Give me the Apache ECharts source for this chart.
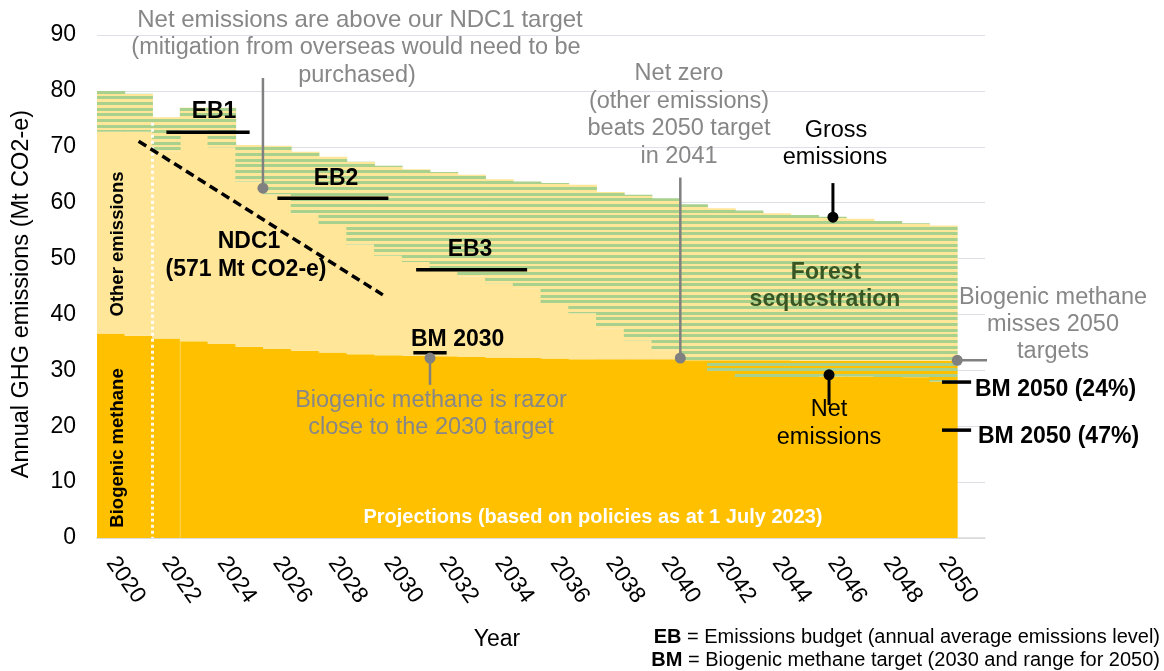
<!DOCTYPE html>
<html><head><meta charset="utf-8">
<script src="https://cdn.jsdelivr.net/npm/echarts@6/dist/echarts.min.js"></script>
<style>html,body{margin:0;padding:0;background:#fff}#c{width:1164px;height:671px}</style>
</head><body><div id="c"></div>
<script>
// ---------- data ----------
const years = [2020,2021,2022,2023,2024,2025,2026,2027,2028,2029,2030,2031,2032,2033,2034,2035,2036,2037,2038,2039,2040,2041,2042,2043,2044,2045,2046,2047,2048,2049,2050];
const biogenicMethane = [36.6,36.2,35.7,35.2,34.7,34.2,33.8,33.5,33.2,32.9,32.7,32.6,32.5,32.4,32.3,32.2,32.1,32.0,32.0,32.0,32.0,31.8,31.8,31.8,31.8,31.7,31.7,31.7,31.7,31.7,31.7];
const netEmissions = [72.7,72.7,69.1,72.9,69.9,63.8,61.5,58.0,56.0,52.5,50.5,49.4,48.3,46.8,45.6,44.7,41.7,40.2,37.5,35.4,33.6,31.5,29.9,28.8,28.8,28.8,28.9,28.9,28.8,28.7,28.0];
const grossEmissions = [80.0,79.5,75.3,77.0,77.0,70.3,70.2,69.1,68.2,67.3,66.6,66.0,65.5,65.0,64.2,63.8,63.5,63.2,61.9,61.4,60.8,59.7,59.0,58.6,58.1,57.8,57.5,57.1,56.7,56.3,55.9];
const yTicks = [0,10,20,30,40,50,60,70,80,90];
// emissions budgets: label, first year, last year, annual level
const budgetNames = ['EB1','EB2','EB3'];
const budgetFrom = [2022,2026,2031];
const budgetTo = [2025,2030,2035];
const budgetLevel = [72.6,60.8,48.0];
// biogenic methane targets
const bm2030Target = 33.15;
const bm2050Targets = [27.9, 19.3];
// NDC1 trajectory [year, value]
const ndcLine = [[2021.0,71.0],[2029.8,43.5]];

// ---------- derived stacks ----------
const orangeBase = years.map((y,i)=>Math.min(biogenicMethane[i], netEmissions[i]));
const forestBelowBM = years.map((y,i)=>Math.max(0, +(biogenicMethane[i]-netEmissions[i]).toFixed(2)));
const otherNet = years.map((y,i)=>Math.max(0, +(netEmissions[i]-biogenicMethane[i]).toFixed(2)));
const forestAbove = years.map((y,i)=>+(grossEmissions[i]-Math.max(biogenicMethane[i], netEmissions[i])).toFixed(2));
const categories = years.map(String).concat(['']);

const ORANGE = '#FFC000', LIGHT = '#FFE699', GREEN = '#A9D18E';
function stripe(bg){
  const c = document.createElement('canvas'); c.width = 4; c.height = 17;
  const g = c.getContext('2d'); g.fillStyle = bg; g.fillRect(0,0,4,17);
  g.fillStyle = GREEN; [0,6,11].forEach(y=>g.fillRect(0,y,4,3));
  return c;
}
const FONT = '"Liberation Sans", Arial, sans-serif';
const GRAY = '#878787';

function barS(name, data, color){
  return {name, type:'bar', stack:'all', data, barWidth:28.6, barGap:'0%',
    itemStyle:{color}, silent:true, emphasis:{disabled:true}, xAxisIndex:0, yAxisIndex:0};
}
function seg(pts, color, width, type){
  return {type:'line', xAxisIndex:1, yAxisIndex:0, data:pts, showSymbol:false, symbol:'none', clip:false,
    silent:true, z:5, lineStyle:{color, width, type:type||'solid', cap:'butt'}, animation:false};
}
function dot(pt, color){
  return {type:'scatter', xAxisIndex:1, yAxisIndex:0, data:[pt], symbolSize:11, clip:false, silent:true, z:6,
    itemStyle:{color, opacity:1}};
}

const series = [
  barS('Biogenic methane', orangeBase, ORANGE),
  barS('Forest (below BM)', forestBelowBM, {image: stripe(ORANGE), repeat:'repeat'}),
  barS('Other emissions', otherNet, LIGHT),
  barS('Forest sequestration', forestAbove, {image: stripe(LIGHT), repeat:'repeat'}),
  // projections separators
  seg([[2021.5,74.3],[2021.5,0]], 'rgba(255,255,255,0.9)', 3, [3,3]),
  seg([[2022.5,0],[2022.5,biogenicMethane[3]]], 'rgba(255,255,255,0.35)', 1),
  // NDC1 dashed
  seg(ndcLine, '#000', 3.5, [9,5]),
  // BM targets
  seg([[2030.9,bm2030Target],[2032.1,bm2030Target]], '#000', 3.5),
  seg([[2049.95,bm2050Targets[0]],[2051.0,bm2050Targets[0]]], '#000', 3.5),
  seg([[2049.95,bm2050Targets[1]],[2051.0,bm2050Targets[1]]], '#000', 3.5),
  // pointers
  seg([[2025.48,62.6],[2025.48,82.3]], '#808080', 2.5),
  dot([2025.48,62.6], '#808080'),
  seg([[2031.5,32.2],[2031.5,27.4]], '#808080', 2.5),
  dot([2031.5,32.2], '#808080'),
  seg([[2040.52,32.2],[2040.52,64.5]], '#808080', 2.5),
  dot([2040.52,32.2], '#808080'),
  seg([[2050.5,31.8],[2052.1,31.8]], '#808080', 2.5),
  dot([2050.5,31.8], '#808080'),
  seg([[2046.02,57.4],[2046.02,63.5]], '#000', 3),
  dot([2046.02,57.4], '#000'),
  seg([[2045.88,29.2],[2045.88,23.8]], '#000', 3),
  dot([2045.88,29.2], '#000')
];
budgetNames.forEach((n,i)=>series.push(seg([[budgetFrom[i],budgetLevel[i]],[budgetTo[i],budgetLevel[i]]], '#000', 3.5)));

function T(x,y,text,font,fill,align,rot){
  return {type:'text', x, y, rotation: rot||0, z:100, silent:true,
    style:{text, font, fill, align: align||'center', verticalAlign:'middle'}};
}
const G24 = '24px '+FONT, G235 = '23.5px '+FONT, B23 = 'bold 23px '+FONT;
const graphics = [
  T(360,20,'Net emissions are above our NDC1 target',G24,GRAY),
  T(356,48,'(mitigation from overseas would need to be',G235,GRAY),
  T(357,76,'purchased)',G235,GRAY),
  T(679,74,'Net zero',G235,GRAY),
  T(679,102,'(other emissions)',G235,GRAY),
  T(679,129,'beats 2050 target',G235,GRAY),
  T(679,157,'in 2041',G235,GRAY),
  T(836,131,'Gross',G235,'#000'),
  T(835,158,'emissions',G235,'#000'),
  T(829,410,'Net',G235,'#000'),
  T(829,438,'emissions',G235,'#000'),
  T(1053,298,'Biogenic methane',G235,GRAY),
  T(1053,325,'misses 2050',G235,GRAY),
  T(1053,352,'targets',G235,GRAY),
  T(431,401,'Biogenic methane is razor',G235,GRAY),
  T(431,428,'close to the 2030 target',G235,GRAY),
  T(214,112,budgetNames[0],B23,'#000'),
  T(336,179,budgetNames[1],B23,'#000'),
  T(470,250,budgetNames[2],B23,'#000'),
  T(411,340,'BM 2030',B23,'#000','left'),
  T(249,242,'NDC1',B23,'#000'),
  T(246,270,'(571 Mt CO2-e)',B23,'#000'),
  T(975,390,'BM 2050 (24%)',B23,'#000','left'),
  T(978,437,'BM 2050 (47%)',B23,'#000','left'),
  T(118,244,'Other emissions','bold 18.5px '+FONT,'#000','center',Math.PI/2),
  T(118,448,'Biogenic methane','bold 18.5px '+FONT,'#000','center',Math.PI/2),
  T(826,273,'Forest',B23,'#375623'),
  T(825,300,'sequestration',B23,'#375623'),
  T(593,517,'Projections (based on policies as at 1 July 2023)','bold 20px '+FONT,'#fff'),
  T(497,640,'Year','23px '+FONT,'#000'),
  T(22,294,'Annual GHG emissions (Mt CO2-e)','23.5px '+FONT,'#000','center',Math.PI/2),
  {type:'text', x:1160, y:637, z:100, silent:true, style:{text:'{b|EB} = Emissions budget (annual average emissions level)',
    font:'20px '+FONT, fill:'#000', align:'right', verticalAlign:'middle',
    rich:{b:{fontWeight:'bold', fontSize:20, fontFamily:FONT, fill:'#000'}}}},
  {type:'text', x:1160, y:660, z:100, silent:true, style:{text:'{b|BM} = Biogenic methane target (2030 and range for 2050)',
    font:'20px '+FONT, fill:'#000', align:'right', verticalAlign:'middle',
    rich:{b:{fontWeight:'bold', fontSize:20, fontFamily:FONT, fill:'#000'}}}}
];

const chart = echarts.init(document.getElementById('c'), null, {renderer:'canvas'});
chart.setOption({
  animation:false,
  backgroundColor:'#fff',
  grid:{left:97, right:179, top:35, bottom:133, containLabel:false},
  xAxis:[{
    type:'category', data:categories, boundaryGap:true,
    axisLine:{show:true, lineStyle:{color:'#d9d9d9', width:1.5}},
    axisTick:{show:false},
    axisLabel:{interval:1, rotate:-55, margin:21, fontSize:23, color:'#000', fontFamily:FONT}
  },{
    type:'value', min:2019.5, max:2051.5, show:false
  }],
  yAxis:{
    type:'value', min:yTicks[0], max:yTicks[yTicks.length-1], interval:10,
    axisLine:{show:false}, axisTick:{show:false},
    axisLabel:{margin:21, fontSize:23, color:'#000', fontFamily:FONT},
    splitLine:{lineStyle:{color:'#dde1e6', width:1}}
  },
  series,
  graphic: graphics
});
</script></body></html>
